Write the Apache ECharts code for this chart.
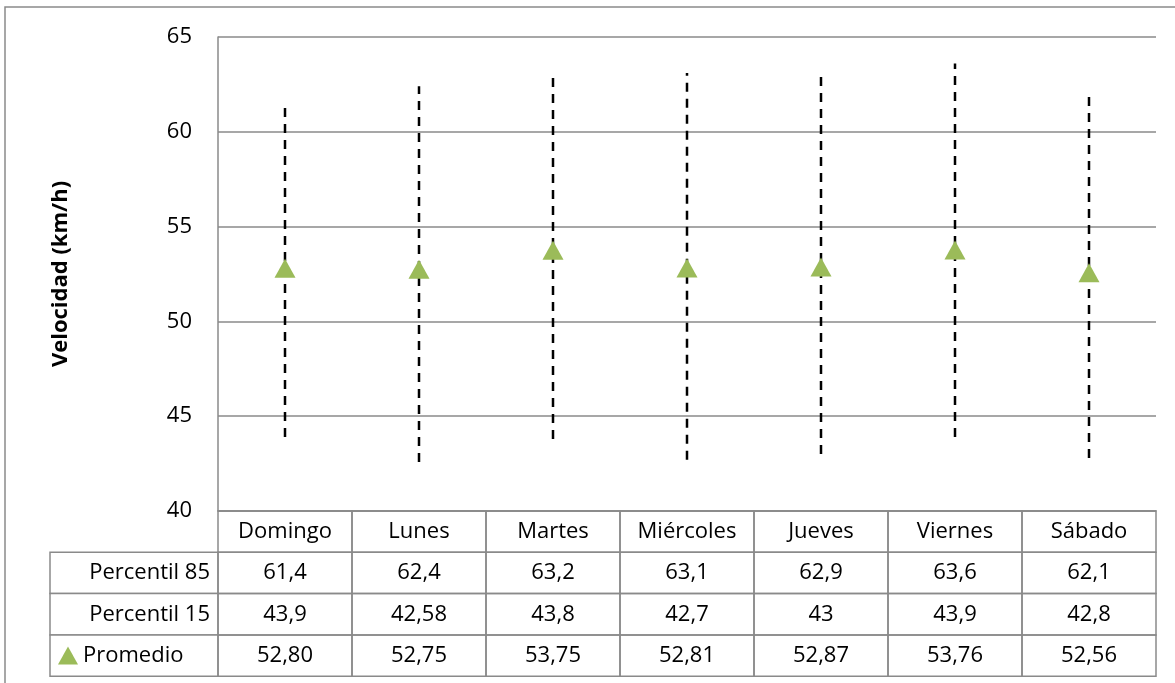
<!DOCTYPE html>
<html>
<head>
<meta charset="utf-8">
<script src="https://cdn.jsdelivr.net/npm/echarts@6/dist/echarts.min.js"></script>
<style>
  html, body { margin: 0; padding: 0; background: #fff; }
  #chart { width: 1175px; height: 683px; }
</style>
</head>
<body>
<div id="chart"></div>
<script>
// Velocidad por día de la semana: percentiles 15/85 y promedio
const dias = ['Domingo', 'Lunes', 'Martes', 'Miércoles', 'Jueves', 'Viernes', 'Sábado'];
const percentil85 = [61.4, 62.4, 63.2, 63.1, 62.9, 63.6, 62.1];
const percentil15 = [43.9, 42.58, 43.8, 42.7, 43, 43.9, 42.8];
const promedio = [52.80, 52.75, 53.75, 52.81, 52.87, 53.76, 52.56];
const filas = ['Percentil 85', 'Percentil 15', 'Promedio'];
const ejeY = { min: 40, max: 65, interval: 5 };

const FONT = '"Open Sans", "Noto Sans", sans-serif';
const GRIS = '#8a8a8a';
const VERDE = '#9bbb59';
const GRID = { left: 218, top: 37, width: 938, height: 474 };
const FILA_H = 41.3;         // alto de cada fila de la tabla de datos
const COL0_LEFT = 50;        // borde izquierdo de la columna de encabezados
const TXT = 22;

function fmt(v, dec) {
  return (dec == null ? String(v) : v.toFixed(dec)).replace('.', ',');
}

const chart = echarts.init(document.getElementById('chart'), null, { renderer: 'canvas' });

// Columna de encabezados de la tabla (a la izquierda del área de trazado)
const baseY = GRID.top + GRID.height;
const encabezados = [];
filas.forEach((nombre, k) => {
  const y = baseY + (k + 1) * FILA_H;
  encabezados.push({
    type: 'rect',
    shape: { x: COL0_LEFT, y: y, width: GRID.left - COL0_LEFT, height: FILA_H },
    style: { fill: '#fff', stroke: GRIS, lineWidth: 1.5 },
    z: 1
  });
  if (k === 2) {
    const cy = y + FILA_H / 2;
    encabezados.push({
      type: 'polygon',
      shape: { points: [[58, cy + 9], [68, cy - 9], [78, cy + 9]] },
      style: { fill: VERDE },
      z: 2
    });
    encabezados.push({
      type: 'text',
      style: { x: 83, y: cy, text: nombre, font: TXT + 'px ' + FONT, fill: '#000',
               align: 'left', verticalAlign: 'middle' },
      z: 2
    });
  } else {
    encabezados.push({
      type: 'text',
      style: { x: GRID.left - 8, y: y + FILA_H / 2, text: nombre, font: TXT + 'px ' + FONT,
               fill: '#000', align: 'right', verticalAlign: 'middle' },
      z: 2
    });
  }
});

const option = {
  animation: false,
  backgroundColor: '#fff',
  grid: { left: GRID.left, top: GRID.top, width: GRID.width, height: GRID.height },
  graphic: [
    {
      type: 'rect',
      shape: { x: 5, y: 7, width: 1400, height: 900 },
      style: { fill: 'none', stroke: GRIS, lineWidth: 1.5 },
      z: 0
    }
  ].concat(encabezados),
  xAxis: {
    type: 'category',
    data: dias,
    boundaryGap: true,
    axisLine: { show: true, lineStyle: { color: GRIS, width: 1.5 } },
    axisTick: { show: false },
    axisLabel: { show: false },
    splitLine: { show: false }
  },
  yAxis: {
    type: 'value',
    min: ejeY.min,
    max: ejeY.max,
    interval: ejeY.interval,
    name: 'Velocidad (km/h)',
    nameLocation: 'middle',
    nameRotate: 90,
    nameGap: 146,
    nameTextStyle: { fontFamily: FONT, fontSize: 22, fontWeight: 'bold', color: '#000' },
    axisLine: { show: true, lineStyle: { color: GRIS, width: 1.5 } },
    axisTick: { show: false },
    axisLabel: { fontFamily: FONT, fontSize: TXT, color: '#000', margin: 26 },
    splitLine: { show: true, lineStyle: { color: GRIS, width: 1.5 } }
  },
  series: [
    {
      // líneas discontinuas entre el percentil 15 y el percentil 85
      name: 'Rango',
      type: 'custom',
      z: 3,
      data: dias.map((d, i) => [i, percentil15[i], percentil85[i]]),
      encode: { x: 0, y: [1, 2] },
      renderItem: function (params, api) {
        const i = api.value(0);
        const p1 = api.coord([i, api.value(1)]);
        const p2 = api.coord([i, api.value(2)]);
        return {
          type: 'line',
          shape: { x1: p1[0], y1: p1[1], x2: p2[0], y2: p2[1] },
          style: { stroke: '#000', lineWidth: 2.5, lineDash: [9, 7] }
        };
      }
    },
    {
      name: 'Promedio',
      type: 'scatter',
      z: 4,
      symbol: 'triangle',
      symbolSize: [21, 19],
      itemStyle: { color: VERDE, opacity: 1 },
      data: promedio
    },
    {
      // tabla de datos bajo el eje de categorías
      name: 'Tabla',
      type: 'custom',
      z: 2,
      clip: false,
      data: dias.map((d, i) => [i, ejeY.min]),
      encode: { x: 0, y: 1 },
      renderItem: function (params, api) {
        const i = api.value(0);
        const c = api.coord([i, ejeY.min]);
        const w = api.size([1, 0])[0];
        const textos = [dias[i], fmt(percentil85[i]), fmt(percentil15[i]), fmt(promedio[i], 2)];
        const children = [];
        textos.forEach((t, r) => {
          const y = c[1] + r * FILA_H;
          children.push({
            type: 'rect',
            shape: { x: c[0] - w / 2, y: y, width: w, height: FILA_H },
            style: { fill: 'none', stroke: GRIS, lineWidth: 1.5 }
          });
          children.push({
            type: 'text',
            style: { x: c[0], y: y + FILA_H / 2, text: t, font: TXT + 'px ' + FONT,
                     fill: '#000', align: 'center', verticalAlign: 'middle' }
          });
        });
        return { type: 'group', children: children };
      }
    }
  ]
};

chart.setOption(option);
</script>
</body>
</html>
